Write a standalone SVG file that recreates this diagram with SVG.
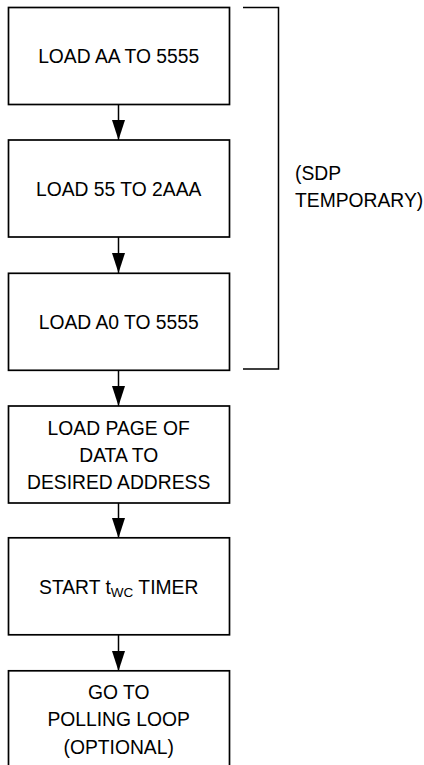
<svg xmlns="http://www.w3.org/2000/svg" width="424" height="765" viewBox="0 0 424 765">
<style>
.box{fill:#fff;stroke:#000;stroke-width:1.7}
.t{font-family:"Liberation Sans",Arial,sans-serif;font-size:19.3px;fill:#000;text-anchor:middle}
.l{font-family:"Liberation Sans",Arial,sans-serif;font-size:19.3px;fill:#000}
.c{stroke:#000;stroke-width:1.5;fill:none}
</style>
<defs>
<marker id="ah" markerUnits="userSpaceOnUse" markerWidth="20" markerHeight="13" refX="20" refY="6.5" orient="auto" viewBox="0 0 20 13">
<path d="M0,0 L20,6.5 L0,13 Z" fill="#000"/>
</marker>
</defs>
<g id="connectors">
<line class="c" x1="118.5" y1="105" x2="118.5" y2="140" marker-end="url(#ah)"/>
<line class="c" x1="118.5" y1="237" x2="118.5" y2="273" marker-end="url(#ah)"/>
<line class="c" x1="118.5" y1="370" x2="118.5" y2="406" marker-end="url(#ah)"/>
<line class="c" x1="118.5" y1="503" x2="118.5" y2="538" marker-end="url(#ah)"/>
<line class="c" x1="118.5" y1="634" x2="118.5" y2="671" marker-end="url(#ah)"/>
</g>
<g id="bracket">
<polyline class="c" points="243,7.5 278.5,7.5 278.5,369 243,369" stroke-width="1.7"/>
<text class="l" x="295" y="180">(SDP</text>
<text class="l" x="295" y="207">TEMPORARY)</text>
</g>
<g id="n1">
<rect class="box" x="8.5" y="7.5" width="221" height="97"/>
<text class="t" x="118.7" y="63.3">LOAD AA TO 5555</text>
</g>
<g id="n2">
<rect class="box" x="8.5" y="140" width="221" height="97"/>
<text class="t" x="118.7" y="196">LOAD 55 TO 2AAA</text>
</g>
<g id="n3">
<rect class="box" x="8.5" y="273.3" width="221" height="97"/>
<text class="t" x="118.7" y="328.5">LOAD A0 TO 5555</text>
</g>
<g id="n4">
<rect class="box" x="8.5" y="406" width="221" height="97"/>
<text class="t" x="118.7" y="434.5">LOAD PAGE OF</text>
<text class="t" x="118.7" y="461.8">DATA TO</text>
<text class="t" x="118.7" y="489">DESIRED ADDRESS</text>
</g>
<g id="n5">
<rect class="box" x="8.5" y="537.8" width="221" height="97"/>
<text class="t" x="118.7" y="593.5">START t<tspan font-size="13.5" dy="3">WC</tspan><tspan dy="-3"> TIMER</tspan></text>
</g>
<g id="n6">
<rect class="box" x="8.5" y="670.8" width="221" height="100"/>
<text class="t" x="118.7" y="699">GO TO</text>
<text class="t" x="118.7" y="726.3">POLLING LOOP</text>
<text class="t" x="118.7" y="753.5">(OPTIONAL)</text>
</g>
</svg>
